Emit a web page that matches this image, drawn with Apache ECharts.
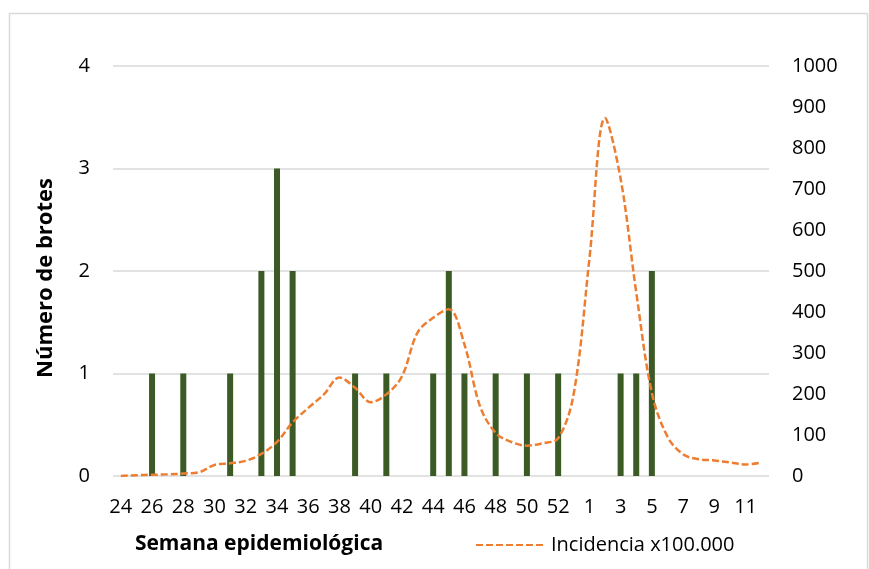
<!DOCTYPE html>
<html>
<head>
<meta charset="utf-8">
<script src="https://cdn.jsdelivr.net/npm/echarts@6/dist/echarts.min.js"></script>
<style>
html, body { margin: 0; padding: 0; background: #fff; }
#chart { width: 869px; height: 569px; }
</style>
</head>
<body>
<div id="chart"></div>
<script>
// semanas epidemiológicas 24..53 y 1..12
var semanas = ['24','25','26','27','28','29','30','31','32','33','34','35','36','37','38','39','40','41','42','43','44','45','46','47','48','49','50','51','52','53',
    '1','2','3','4','5','6','7','8','9','10','11','12'];
// número de brotes por semana
var brotes = [0,0,1,0,1,0,0,1,0,2,3,2,0,0,0,1,0,1,0,0,1,2,1,0,1,0,1,0,1,0,
    0,0,1,1,2,0,0,0,0,0,0,0];
// incidencia x100.000
var incidencia = [0,2,3,4,6,9,27,31,37,54,83,131,166,199,240,215,180,199,243,350,386,407,321,170,105,83,74,80,92,201,
    529,873,725,448,203,96,53,41,38,33,28,33];

var font = 'Open Sans';
var chart = echarts.init(document.getElementById('chart'));
var option = {
    animation: false,
    textStyle: { fontFamily: font },
    graphic: [
        {
            type: 'rect',
            shape: { x: 9.5, y: 13.5, width: 858, height: 570 },
            style: { fill: null, stroke: '#d9d9d9', lineWidth: 1.5 }
        },
        {
            type: 'text',
            x: 259, y: 544,
            style: { text: 'Semana epidemiológica', font: 'bold 21px "Open Sans"', fill: '#000',
                align: 'center', verticalAlign: 'middle' }
        },
        {
            type: 'text',
            x: 46, y: 278,
            rotation: Math.PI / 2,
            style: { text: 'Número de brotes', font: 'bold 22px "Open Sans"', fill: '#000',
                align: 'center', verticalAlign: 'middle' }
        }
    ],
    legend: {
        left: 470,
        top: 530,
        itemWidth: 70,
        itemHeight: 12,
        itemStyle: { opacity: 0 },
        textStyle: { fontSize: 20, color: '#000', fontFamily: font },
        data: ['Incidencia x100.000']
    },
    grid: {
        left: 113,
        right: 100,
        top: 66,
        bottom: 93
    },
    xAxis: [
        {
            type: 'category',
            data: semanas,
            axisLine: { show: false },
            axisTick: { show: false },
            axisLabel: { interval: 1, color: '#000', fontSize: 20, margin: 21 }
        }
    ],
    yAxis: [
        {
            type: 'value',
            min: 0, max: 4, interval: 1,
            axisLabel: { color: '#000', fontSize: 20, margin: 23 },
            splitLine: { lineStyle: { color: '#d9d9d9', width: 1.5 } }
        },
        {
            type: 'value',
            min: 0, max: 1000, interval: 100,
            axisLabel: { color: '#000', fontSize: 20, margin: 23, formatter: function (v) { return String(v); } },
            splitLine: { show: false }
        }
    ],
    series: [
        {
            name: 'Brotes',
            type: 'bar',
            data: brotes,
            barWidth: 6,
            itemStyle: { color: '#3b5a25' }
        },
        {
            name: 'Incidencia x100.000',
            type: 'line',
            yAxisIndex: 1,
            data: incidencia,
            smooth: 0.35,
            symbol: 'none',
            lineStyle: { color: '#ed7d31', width: 2.5, type: [7, 3] },
            itemStyle: { color: '#ed7d31' }
        }
    ]
};
chart.setOption(option);
</script>
</body>
</html>
